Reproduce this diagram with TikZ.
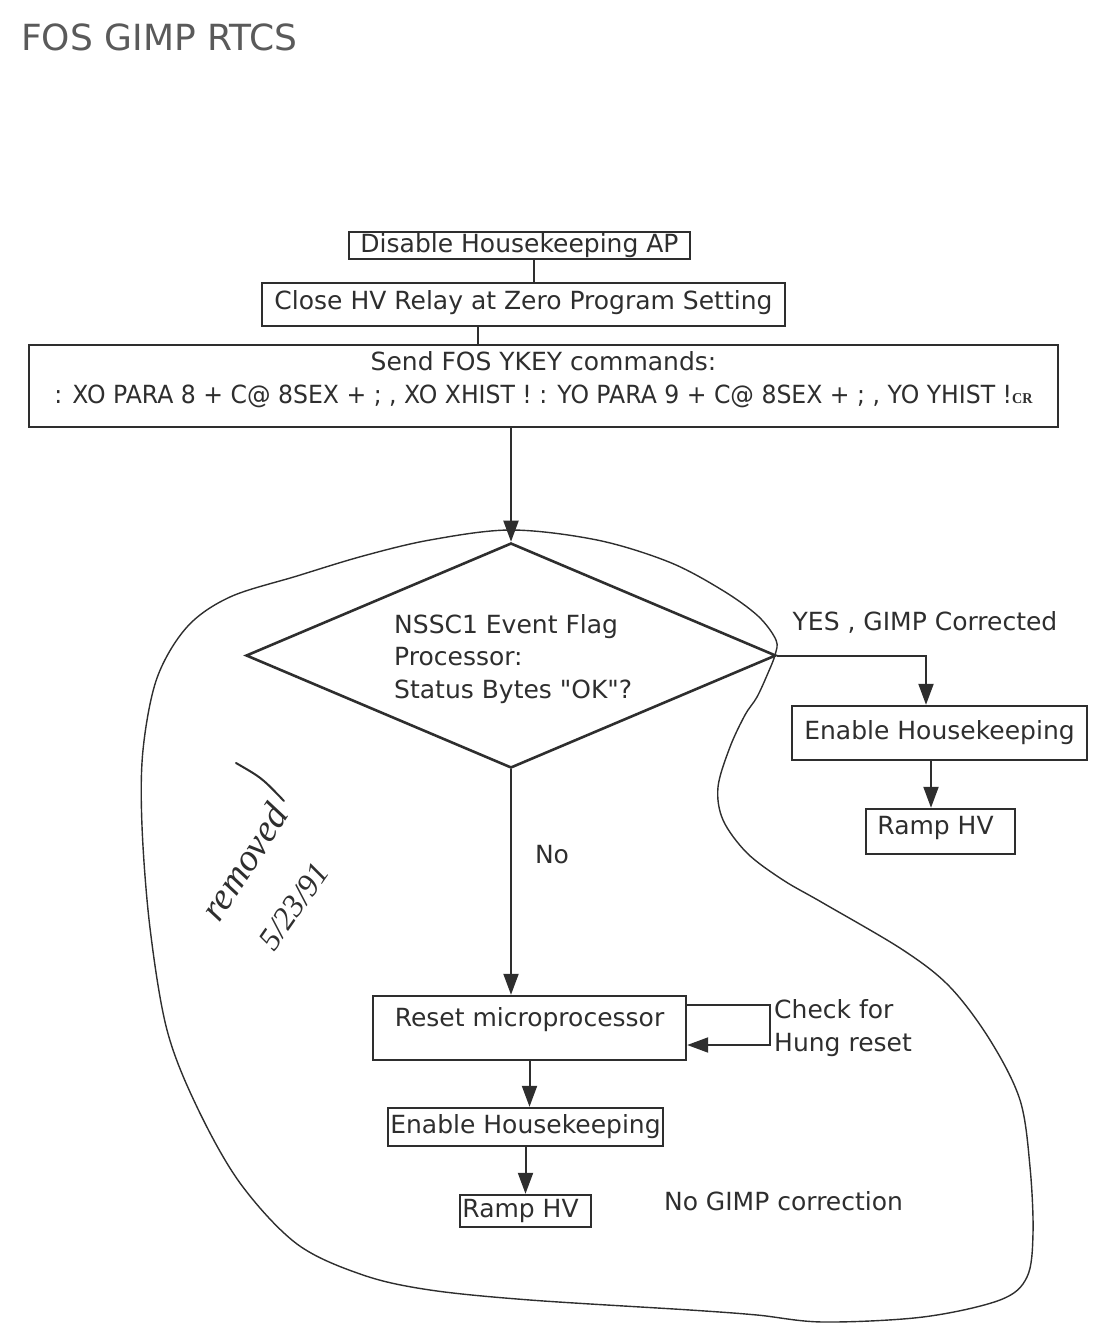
\documentclass[tikz,border=0pt]{standalone}
\usepackage{fontspec}
\usepackage{graphicx}
\setmainfont{DejaVu Sans}
\newfontfamily\plainfont{DejaVu Sans}
\newfontfamily\handfont{Liberation Serif}
\usetikzlibrary{shapes.geometric,arrows.meta}
\definecolor{ink}{HTML}{2E2E2E}
\definecolor{titlegray}{HTML}{5A5A5A}
\begin{document}
\begin{tikzpicture}[x=1pt,y=-1pt,
  every node/.style={text=ink},
  txt/.style={font=\fontsize{25}{32.5}\selectfont, inner sep=0pt},
  boxnode/.style={draw=ink, line width=2.4pt, inner sep=0pt, font=\fontsize{25}{32.5}\selectfont},
  decision/.style={draw=ink, line width=2.6pt, diamond, inner sep=0pt, minimum width=530pt, minimum height=225pt},
  link/.style={draw=ink, line width=2pt},
  arr/.style={link, -{Triangle[length=21pt,width=15pt]}},
  blob/.style={draw=ink, line width=1.4pt},
  handnode/.style={inner sep=0pt, text=ink},
  handline/.style={draw=ink, line width=2pt, line cap=round}]

\useasboundingbox (0,0) rectangle (1106,1343);

% title
\node[anchor=west, inner sep=0pt, text=titlegray, font=\fontsize{36}{40}\selectfont] (title) at (21,37) {FOS GIMP RTCS};

% freehand enclosure
\path[blob] plot[smooth cycle, tension=0.55] coordinates {
 (511,530) (597,540) (669,562) (722,590) (758,616) (776,640) (775,655)
 (768,673) (757,697) (745,715) (730,747) (718,787) (723,820) (747,853)
 (783,880) (823,903) (903,950) (950,987) (990,1040) (1020,1100)
 (1030,1167) (1033,1233) (1027,1277) (1000,1300) (923,1317) (823,1322)
 (757,1315) (690,1310) (530,1300) (430,1290) (363,1275) (297,1244)
 (240,1183) (197,1107) (167,1030) (150,928) (142,826) (143,750)
 (157,678) (187,627) (230,597) (297,576) (363,556) (430,540)};

% boxes
\node[boxnode, minimum width=341pt, minimum height=27pt] (b1) at (519.5,245.5) {Disable Housekeeping AP};
\node[boxnode, minimum width=523pt, minimum height=43pt, text height=19pt, text depth=9pt] (b2) at (523.5,304.5) {Close HV Relay at Zero Program Setting};
\node[boxnode, minimum width=1029pt, minimum height=82pt, align=center, text depth=17pt] (b3) at (543.5,386)
  {Send FOS YKEY commands:\\
   \resizebox{978pt}{\height}{: XO PARA 8 + C@ 8SEX + ; , XO XHIST ! : YO PARA 9 + C@ 8SEX + ; , YO YHIST !{\handfont\bfseries\fontsize{15}{15}\selectfont CR}}};

\node[decision] (d) at (511,655.5) {};
\node[txt, anchor=west, align=left, font=\plainfont\fontsize{25}{32.5}\selectfont] (dtext) at (394,659) {NSSC1 Event Flag\\Processor:\\Status Bytes "OK"?};

\node[boxnode, minimum width=295pt, minimum height=54pt] (eh1) at (939.5,733) {Enable Housekeeping};
\node[boxnode, minimum width=149pt, minimum height=45pt, text height=19pt, text depth=13pt] (rh1) at (940.5,831.5) {\hspace*{-10pt}Ramp HV};

\node[boxnode, minimum width=313pt, minimum height=64pt, text height=18pt, text depth=21pt] (reset) at (529.5,1028) {Reset microprocessor};
\node[boxnode, minimum width=275pt, minimum height=38pt] (eh2) at (525.5,1127) {Enable Housekeeping};
\node[boxnode, minimum width=131pt, minimum height=32pt] (rh2) at (525.5,1211) {\hspace*{-10pt}Ramp HV};

% labels
\node[txt] (yes) at (925,622) {YES , GIMP Corrected};
\node[txt] (no) at (552,855) {No};
\node[txt, anchor=west, align=left] (hung) at (774,1028) {Check for\\Hung reset};
\node[txt] (nogimp) at (783.5,1201) {No GIMP correction};

% helper coordinates
\coordinate (x534) at (534,0);
\coordinate (x478) at (478,0);
\coordinate (x926) at (926,0);
\coordinate (x931) at (931,0);
\coordinate (lp1) at (770,1005);
\coordinate (lp2) at (770,1045);

% connectors
\draw[link] (b1.south -| x534) -- (b2.north -| x534);
\draw[link] (b2.south -| x478) -- (b3.north -| x478);
\draw[arr] (b3.south -| d.north) -- (d.north);
\draw[arr] (d.east) -- (d.east -| x926) -- (eh1.north -| x926);
\draw[arr] (eh1.south -| x931) -- (rh1.north -| x931);
\draw[arr] (d.south) -- (d.south |- reset.north);
\draw[arr] (reset.east |- lp1) -- (lp1) -- (lp2) -- (reset.east |- lp2);
\draw[arr] (reset.south) -- (reset.south |- eh2.north);
\draw[arr] (eh2.south) -- (eh2.south |- rh2.north);

% handwritten note
\node[handnode, rotate=57, font=\handfont\itshape\fontsize{38}{38}\selectfont] (hw1) at (244,862) {removed};
\node[handnode, rotate=55, font=\handfont\itshape\fontsize{32}{32}\selectfont] (hw2) at (294,906) {5/23/91};
\draw[handline] (236,763) .. controls (262,778) .. (284,801);

\end{tikzpicture}
\end{document}
